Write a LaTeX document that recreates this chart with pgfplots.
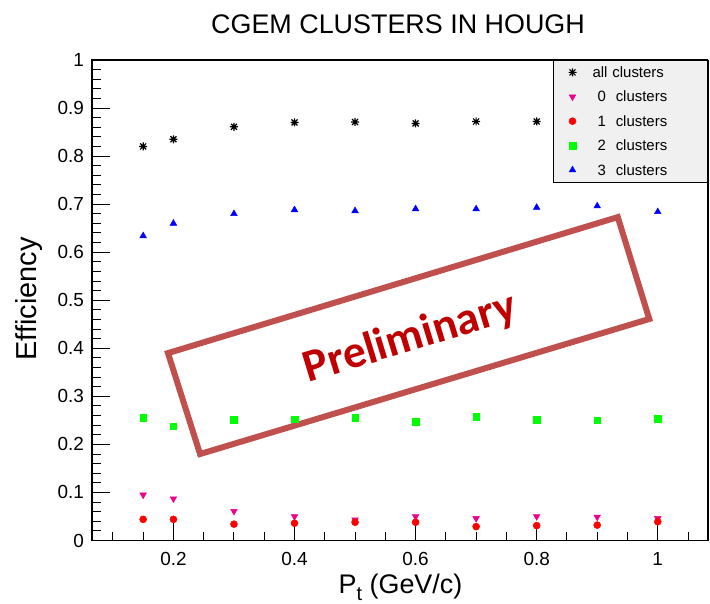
\documentclass[border=0pt]{standalone}
\usepackage{fontspec}
\setmainfont{Liberation Sans}
\newfontfamily\carlito{Carlito}
\usepackage{pgfplots}
\pgfplotsset{compat=1.18}
\definecolor{legbg}{HTML}{F0F0F0}
\definecolor{boxred}{HTML}{C0504D}
\definecolor{txtred}{HTML}{C00000}
\pgfdeclareplotmark{rootstar}{%
  \pgfpathmoveto{\pgfqpoint{-\pgfplotmarksize}{0pt}}\pgfpathlineto{\pgfqpoint{\pgfplotmarksize}{0pt}}%
  \pgfpathmoveto{\pgfqpoint{0pt}{-\pgfplotmarksize}}\pgfpathlineto{\pgfqpoint{0pt}{\pgfplotmarksize}}%
  \pgfpathmoveto{\pgfqpoint{-0.75\pgfplotmarksize}{-0.75\pgfplotmarksize}}\pgfpathlineto{\pgfqpoint{0.75\pgfplotmarksize}{0.75\pgfplotmarksize}}%
  \pgfpathmoveto{\pgfqpoint{-0.75\pgfplotmarksize}{0.75\pgfplotmarksize}}\pgfpathlineto{\pgfqpoint{0.75\pgfplotmarksize}{-0.75\pgfplotmarksize}}%
  \pgfusepathqstroke}
\begin{document}
\begin{tikzpicture}
\path (-91.7bp,-63.5bp) rectangle (618.3bp,540.5bp);
% tick frame
\begin{axis}[
  at={(0,0)}, anchor=south west,
  scale only axis, width=616bp, height=480.5bp,
  xmin=0.065, xmax=1.0825, ymin=0, ymax=1,
  xtick={0.2,0.4,0.6,0.8,1},
  ytick={0,0.1,0.2,0.3,0.4,0.5,0.6,0.7,0.8,0.9,1},
  minor xtick={0.1,0.15,0.25,0.3,0.35,0.45,0.5,0.55,0.65,0.7,0.75,0.85,0.9,0.95,1.05},
  minor y tick num=4,
  xticklabels={}, yticklabels={},
  tick pos=left, tick align=inside,
  major tick length=18bp, minor tick length=9bp,
  tick style={black, line width=1bp},
]
\addplot[draw=none, forget plot] coordinates {(0.5,0.5)};
\end{axis}
% data
\begin{axis}[
  at={(0,0)}, anchor=south west,
  scale only axis, width=616bp, height=480.5bp,
  xmin=0.065, xmax=1.0825, ymin=0, ymax=1,
  axis line style={line width=1bp},
  xtick={0.2,0.4,0.6,0.8,1},
  ytick={0,0.1,0.2,0.3,0.4,0.5,0.6,0.7,0.8,0.9,1},
  tick style={draw=none},
  ticklabel style={font=\fontsize{19}{19}\selectfont},
  /pgf/number format/assume math mode=true,
  xticklabel style={inner sep=0pt, anchor=north, yshift=-11.5bp},
  yticklabel style={inner sep=0pt, anchor=east, xshift=-7.5bp},
  legend cell align=left,
  legend style={at={(1,1)}, anchor=north east, draw=black,
    fill=legbg, font=\fontsize{15}{15}\selectfont,
    inner xsep=15bp, inner ysep=0pt, row sep=0pt,
    nodes={inner sep=0pt, text height=17.3bp, text depth=7.1bp, text width=100bp, anchor=west},
    /tikz/every odd column/.append style={column sep=16bp}},
]
\addplot[only marks, mark=rootstar, mark size=4bp, black, line width=1.2bp] coordinates {
(0.15,0.820) (0.2,0.835) (0.3,0.861) (0.4,0.870) (0.5,0.871) (0.6,0.868) (0.7,0.872) (0.8,0.872) (0.9,0.872) (1.0,0.873)};
\addlegendentry{all clusters}
\addplot[only marks, mark=triangle*, mark size=3.8bp, magenta, line width=0.5bp, mark options={rotate=180}] coordinates {
(0.15,0.095) (0.2,0.087) (0.3,0.061) (0.4,0.050) (0.5,0.043) (0.6,0.050) (0.7,0.046) (0.8,0.050) (0.9,0.049) (1.0,0.046)};
\addlegendentry{\hspace*{5bp}0\ \ clusters}
\addplot[only marks, mark=*, mark size=3.5bp, red, line width=0.5bp] coordinates {
(0.15,0.044) (0.2,0.044) (0.3,0.034) (0.4,0.036) (0.5,0.038) (0.6,0.038) (0.7,0.029) (0.8,0.031) (0.9,0.032) (1.0,0.039)};
\addlegendentry{\hspace*{5bp}1\ \ clusters}
\addplot[only marks, mark=square*, mark size=3.3bp, green, line width=0.5bp] coordinates {
(0.15,0.256) (0.2,0.238) (0.3,0.251) (0.4,0.252) (0.5,0.256) (0.6,0.247) (0.7,0.258) (0.8,0.251) (0.9,0.250) (1.0,0.253)};
\addlegendentry{\hspace*{5bp}2\ \ clusters}
\addplot[only marks, mark=triangle*, mark size=3.8bp, blue, line width=0.5bp] coordinates {
(0.15,0.634) (0.2,0.660) (0.3,0.680) (0.4,0.688) (0.5,0.686) (0.6,0.690) (0.7,0.690) (0.8,0.693) (0.9,0.696) (1.0,0.684)};
\addlegendentry{\hspace*{5bp}3\ \ clusters}
\draw[boxred, line width=6bp, line join=miter] (axis cs:0.191,0.390) -- (axis cs:0.934,0.673) -- (axis cs:0.986,0.461) -- (axis cs:0.244,0.180) -- cycle;
\node[rotate=17, txtred, font=\carlito\bfseries\fontsize{46}{46}\selectfont] at (axis cs:0.591,0.420) {Preliminary};
\end{axis}
\node[anchor=base, font=\fontsize{27}{27}\selectfont] at (306.3bp,507bp) {CGEM CLUSTERS IN HOUGH};
\node[anchor=base, rotate=90, font=\fontsize{29}{29}\selectfont] at (-54.7bp,241.5bp) {Efficiency};
\node[anchor=base, font=\fontsize{27}{27}\selectfont] at (308.8bp,-53bp) {P\raisebox{-7bp}{\fontsize{20}{20}\selectfont t} (GeV/c)};
\end{tikzpicture}
\end{document}
